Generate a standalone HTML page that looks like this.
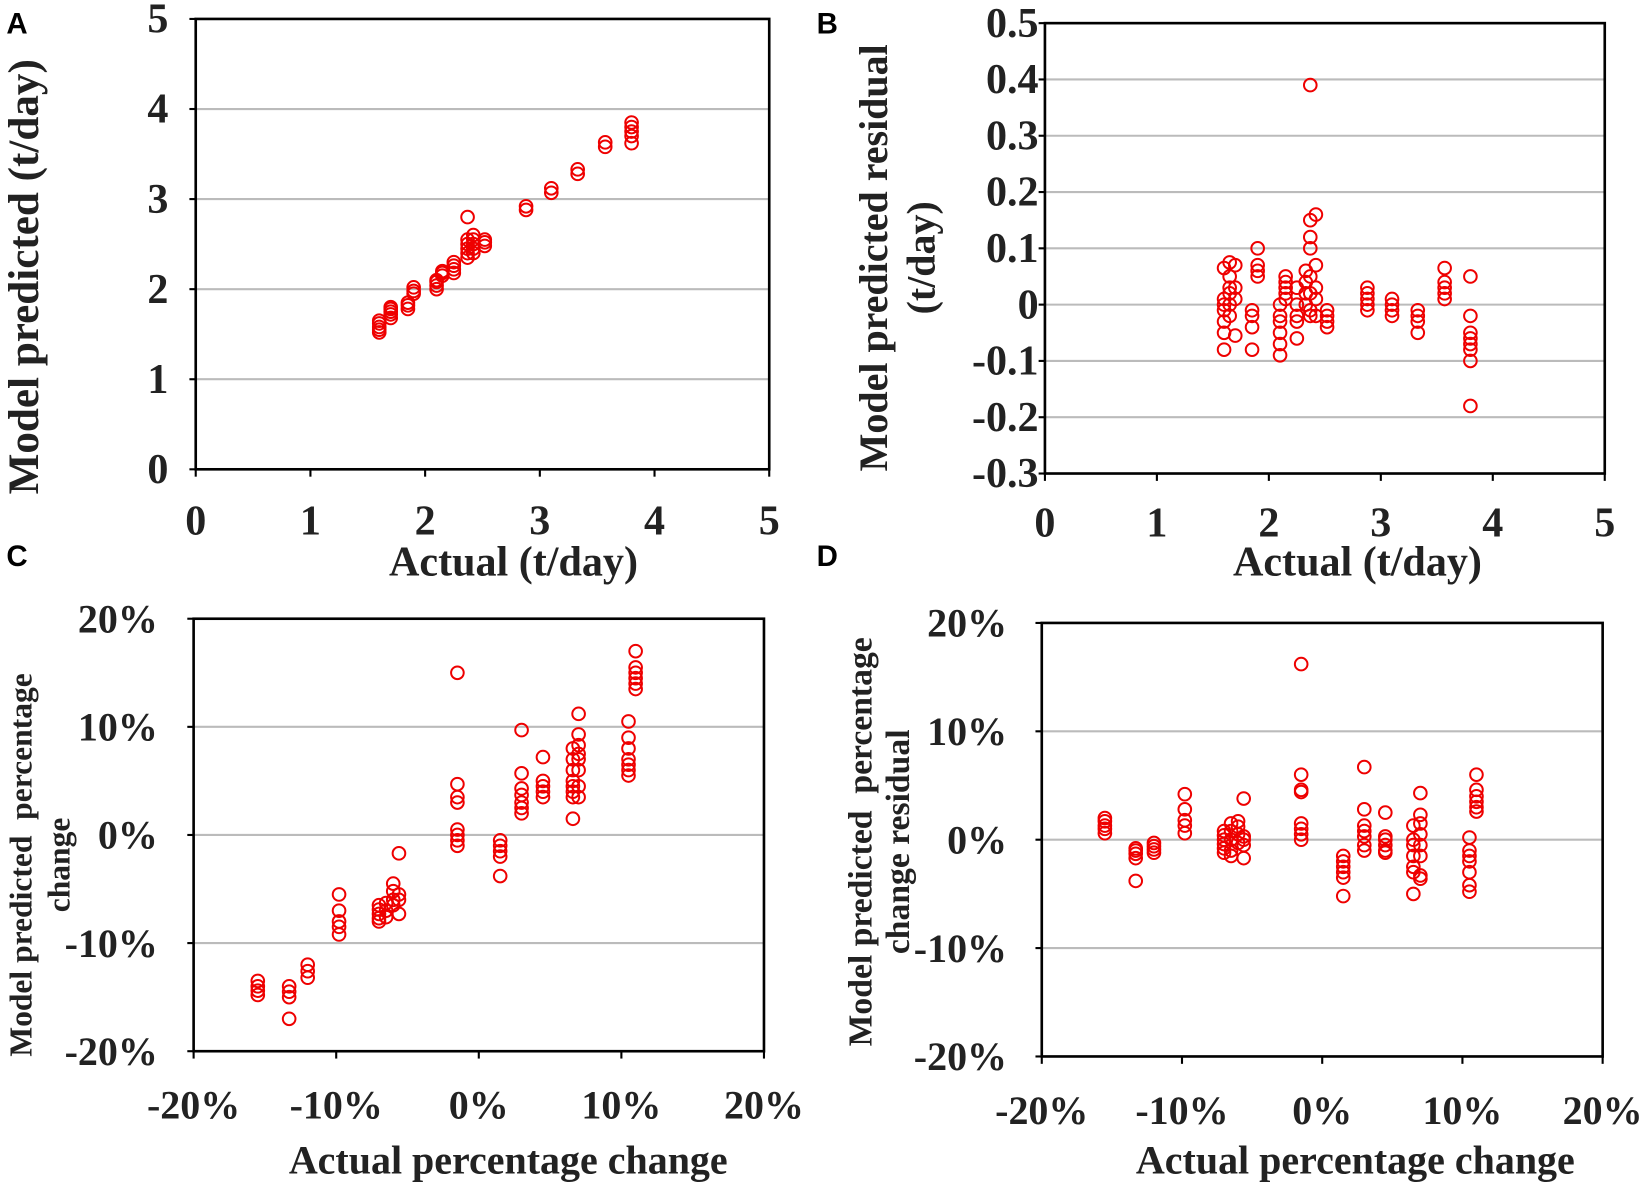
<!DOCTYPE html>
<html><head><meta charset="utf-8"><style>
html,body{margin:0;padding:0;background:#fff;}
svg{display:block;}
text{font-family:"Liberation Serif",serif;font-weight:bold;fill:#222;}
.lab{font-family:"Liberation Sans",sans-serif;font-weight:bold;fill:#000;font-size:28px;}
</style></head><body>
<svg id="s" width="1650" height="1188" viewBox="0 0 1568 1129" preserveAspectRatio="none" xmlns="http://www.w3.org/2000/svg"></svg>
<script>
const S=document.getElementById('s');let h='';
function panel(o){
 const {L,R,T,B,xmin,xmax,ymin,ymax,xt,yt,fmtx,fmty,pts,ylabX,xlabY,fs}=o;
 const X=v=>L+(v-xmin)/(xmax-xmin)*(R-L), Y=v=>B-(v-ymin)/(ymax-ymin)*(B-T);
 yt.forEach(v=>{const y=Y(v);if(v!==ymin&&v!==ymax)h+=`<line x1="${L}" x2="${R}" y1="${y}" y2="${y}" stroke="#bbb" stroke-width="2"/>`;
  h+=`<line x1="${L-6}" x2="${L}" y1="${y}" y2="${y}" stroke="#000" stroke-width="2"/>`;
  h+=`<text x="${ylabX}" y="${y+13}" font-size="${fs}" text-anchor="end">${fmty(v)}</text>`;});
 xt.forEach(v=>{const x=X(v);h+=`<line x1="${x}" x2="${x}" y1="${B}" y2="${B+7}" stroke="#000" stroke-width="2"/>`;
  h+=`<text x="${x}" y="${xlabY}" font-size="${fs}" text-anchor="middle">${fmtx(v)}</text>`;});
 h+=`<rect x="${L}" y="${T}" width="${R-L}" height="${B-T}" fill="none" stroke="#000" stroke-width="2.5"/>`;
 pts.forEach(([x,ys])=>ys.forEach(y=>{h+=`<circle cx="${X(x)}" cy="${Y(y)}" r="6" fill="none" stroke="#e00" stroke-width="1.9"/>`;}));
}
const n=v=>''+v, p=v=>v+'%';
const A=[[1.6,[1.52,1.55,1.58,1.62,1.65]],[1.7,[1.68,1.72,1.75,1.78,1.8]],[1.85,[1.78,1.82,1.85]],[1.9,[1.95,1.98,2.02]],[2.1,[2.0,2.04,2.08,2.1]],[2.15,[2.15,2.18,2.2]],[2.25,[2.18,2.22,2.26,2.3]],[2.37,[2.35,2.4,2.45,2.5,2.55,2.8]],[2.42,[2.4,2.45,2.5,2.55,2.6]],[2.52,[2.48,2.52,2.55]],[2.88,[2.88,2.92]],[3.1,[3.07,3.12]],[3.33,[3.28,3.33]],[3.57,[3.58,3.63]],[3.8,[3.62,3.7,3.75,3.8,3.85]]];
const B=[[1.6,[-0.08,-0.05,-0.03,-0.01,0,0.01,0.065]],[1.65,[0.075,0.05,0.03,0.02,0,-0.02]],[1.7,[0.07,0.03,0.01,-0.055]],[1.85,[-0.08,-0.04,-0.02,-0.01]],[1.9,[0.1,0.07,0.06,0.05]],[2.1,[-0.09,-0.07,-0.05,-0.03,-0.02,0]],[2.15,[0.05,0.04,0.03,0.02,0.01]],[2.25,[0.03,0,-0.02,-0.03,-0.06]],[2.33,[0.06,0.04,0.02,0]],[2.37,[0.39,0.15,0.12,0.1,0.05,0.02,-0.01,-0.02]],[2.42,[0.16,0.07,0.03,0.01,-0.02]],[2.52,[-0.01,-0.02,-0.03,-0.04]],[2.88,[0.03,0.02,0.01,0,-0.01]],[3.1,[0.01,0,-0.01,-0.02]],[3.33,[-0.01,-0.02,-0.03,-0.05]],[3.57,[0.065,0.04,0.03,0.02,0.01]],[3.8,[0.05,-0.02,-0.05,-0.06,-0.07,-0.08,-0.1,-0.18]]];
const C=[[-15.5,[-13.5,-14,-14.4,-14.8]],[-13.3,[-14,-14.5,-15,-17]],[-12,[-12,-12.6,-13.2]],[-9.8,[-5.5,-7,-8,-8.5,-9.2]],[-7,[-6.5,-6.9,-7.3,-7.7,-8]],[-6.5,[-6.3,-7,-7.6]],[-6,[-4.5,-5.2,-6,-6.5]],[-5.6,[-1.7,-5.5,-6,-7.3]],[-1.5,[15,4.7,3.5,3,0.5,0,-0.5,-1]],[1.5,[-0.5,-1,-1.5,-2,-3.8]],[3,[9.7,5.7,4.3,3.7,3,2.5,2]],[4.5,[7.2,5,4.5,4,3.5]],[6.6,[1.5,3.5,4,4.5,5,6,7,8]],[7,[11.2,9.3,8.3,7.5,7,6,4.5,3.5]],[10.5,[10.5,9,8,7,6.5,6,5.5]],[11,[17,15.5,15,14.5,14,13.5]]];
const D=[[-15.5,[2,1.7,1.3,1,0.6]],[-13.3,[-0.8,-1,-1.3,-1.7,-3.8]],[-12,[-0.3,-0.6,-0.9,-1.2]],[-9.8,[4.2,2.8,1.8,1.3,0.6]],[-7,[0.8,0.4,0,-0.4,-0.8,-1.2]],[-6.5,[1.5,0.8,0,-1,-1.5]],[-6,[1.7,1.2,0.5,-0.3]],[-5.6,[3.8,0.3,0,-0.5,-1.7]],[-1.5,[16.2,6,4.6,4.4,1.5,1,0.5,0]],[1.5,[-1.5,-2,-2.5,-3,-3.5,-5.2]],[3,[6.7,2.8,1.3,0.8,0.3,-0.5,-1]],[4.5,[2.5,0.3,0,-0.5,-1,-1.2]],[6.5,[1.3,0,-0.5,-1.5,-2.5,-3,-5]],[7,[4.3,2.3,1.5,0.5,-0.5,-1.5,-3.3,-3.6]],[10.5,[0.2,-1,-1.5,-2,-3,-4.2,-4.8]],[11,[6,4.6,4,3.5,3,2.6]]];
panel({L:186,R:731,T:18,B:446,xmin:0,xmax:5,ymin:0,ymax:5,xt:[0,1,2,3,4,5],yt:[0,1,2,3,4,5],fmtx:n,fmty:n,pts:A,ylabX:160,xlabY:508,fs:40});
panel({L:993,R:1525,T:22,B:450,xmin:0,xmax:5,ymin:-0.3,ymax:0.5,xt:[0,1,2,3,4,5],yt:[-0.3,-0.2,-0.1,0,0.1,0.2,0.3,0.4,0.5],fmtx:n,fmty:v=>''+Math.round(v*10)/10,pts:B,ylabX:987,xlabY:510,fs:40});
panel({L:184,R:726,T:588,B:999,xmin:-20,xmax:20,ymin:-20,ymax:20,xt:[-20,-10,0,10,20],yt:[-20,-10,0,10,20],fmtx:p,fmty:p,pts:C,ylabX:150,xlabY:1063,fs:38});
panel({L:990,R:1523,T:592,B:1004,xmin:-20,xmax:20,ymin:-20,ymax:20,xt:[-20,-10,0,10,20],yt:[-20,-10,0,10,20],fmtx:p,fmty:p,pts:D,ylabX:957,xlabY:1068,fs:38});
h+=`<text x="488" y="547" font-size="40" text-anchor="middle">Actual (t/day)</text>`;
h+=`<text x="1290" y="547" font-size="40" text-anchor="middle">Actual (t/day)</text>`;
h+=`<text x="483" y="1115" font-size="38" text-anchor="middle">Actual percentage change</text>`;
h+=`<text x="1288" y="1115" font-size="38" text-anchor="middle">Actual percentage change</text>`;
h+=`<text transform="translate(36,263) rotate(-90)" font-size="41" text-anchor="middle">Model predicted (t/day)</text>`;
h+=`<text transform="translate(843,245) rotate(-90)" font-size="38" text-anchor="middle">Model predicted residual</text>`;
h+=`<text transform="translate(888,245) rotate(-90)" font-size="38" text-anchor="middle">(t/day)</text>`;
h+=`<text transform="translate(30,822) rotate(-90)" font-size="30" text-anchor="middle" xml:space="preserve">Model predicted  percentage</text>`;
h+=`<text transform="translate(66,822) rotate(-90)" font-size="30" text-anchor="middle">change</text>`;
h+=`<text transform="translate(828,800) rotate(-90)" font-size="32" text-anchor="middle" xml:space="preserve">Model predicted  percentage</text>`;
h+=`<text transform="translate(864,800) rotate(-90)" font-size="32" text-anchor="middle">change residual</text>`;
h+=`<text class="lab" x="6" y="32">A</text><text class="lab" x="776" y="32">B</text><text class="lab" x="6" y="538">C</text><text class="lab" x="776" y="538">D</text>`;
S.innerHTML=h;
</script>
</body></html>
